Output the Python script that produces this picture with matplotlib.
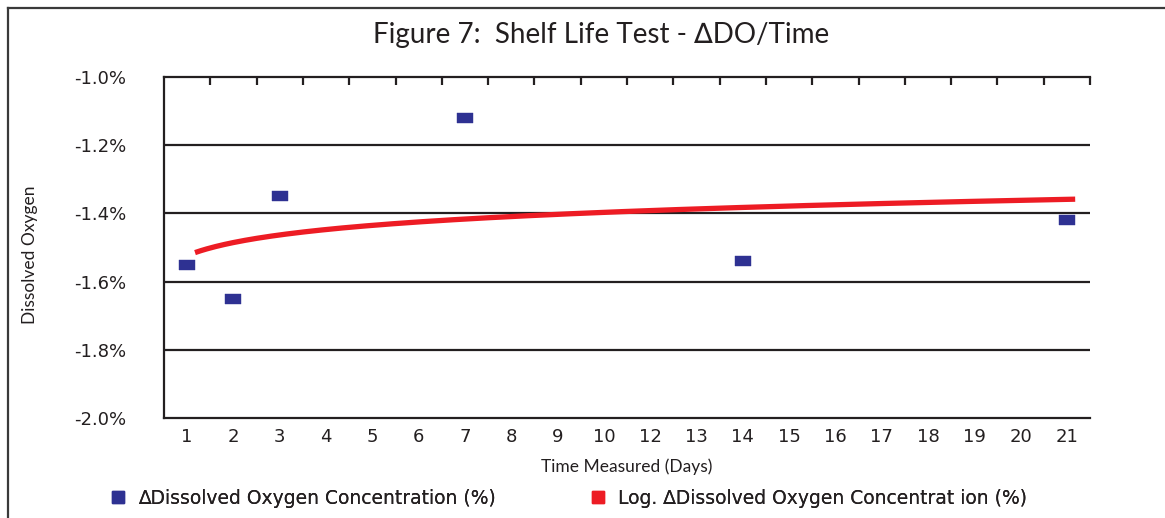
import numpy as np
import matplotlib
matplotlib.use("Agg")
import matplotlib.pyplot as plt
from matplotlib.lines import Line2D

# categories on the x axis (day 11 is not in the chart)
days = ["1", "2", "3", "4", "5", "6", "7", "8", "9", "10",
        "12", "13", "14", "15", "16", "17", "18", "19", "20", "21"]
# measured change in dissolved oxygen (%)
meas_days = ["1", "2", "3", "7", "14", "21"]
meas_do = [-1.55, -1.65, -1.35, -1.12, -1.54, -1.42]

y_ticks = [-2.0, -1.8, -1.6, -1.4, -1.2, -1.0]

navy = "#2E3192"
red = "#ED1C24"
dark = "#231F20"
sans = ["Lato", "DejaVu Sans"]
wide = ["DejaVu Sans"]

W, H = 1165, 518
fig = plt.figure(figsize=(W / 100, H / 100), dpi=100)
ax = fig.add_axes([164 / W, 1 - 418 / H, (1090 - 164) / W, (418 - 77) / H])

pos = {d: i + 1 for i, d in enumerate(days)}
xm = np.array([pos[d] for d in meas_days], dtype=float)
ym = np.array(meas_do)

# logarithmic trendline fitted to the points (x = category position)
b, a = np.polyfit(np.log(xm), ym, 1)
xt = np.linspace(1.17, 20.18, 300)
ax.plot(xt, a + b * np.log(xt), color=red, lw=3.8, solid_capstyle="butt", zorder=3)

rect = [(-0.75, -0.5), (0.75, -0.5), (0.75, 0.5), (-0.75, 0.5), (-0.75, -0.5)]
ax.plot(xm, ym, ls="none", marker=rect, ms=11.5, color=navy, mec=navy, mew=0.3, zorder=4)

ax.set_xlim(0.5, len(days) + 0.5)
ax.set_ylim(-2.0, -1.0)

# grid lines
for v in y_ticks[1:-1]:
    ax.axhline(v, color=dark, lw=1.6, zorder=1)

ax.spines["right"].set_visible(False)
for s in ["left", "top", "bottom"]:
    ax.spines[s].set_linewidth(1.6)
    ax.spines[s].set_color(dark)

ax.set_yticks(y_ticks)
ax.set_yticklabels(["%.1f%%" % v for v in y_ticks], family=wide, fontsize=13, color=dark)
ax.tick_params(axis="y", direction="in", length=4, width=1.4, pad=27, colors=dark)
ax.set_xticks(range(1, len(days) + 1))
ax.set_xticklabels(days, family=wide, fontsize=13, color=dark)
ax.tick_params(axis="x", length=0, pad=7)

# ticks on the top edge at the category boundaries
top = ax.secondary_xaxis("top")
top.set_xticks(np.arange(1.5, len(days) + 0.6, 1.0))
top.set_xticklabels([])
top.tick_params(direction="in", length=6, width=1.6, colors=dark)
top.spines["top"].set_visible(False)

ax.set_xlabel("Time Measured (Days)", family=sans, fontsize=12.5, color=dark, labelpad=9)
fig.text(30 / W, 1 - 255 / H, "Dissolved Oxygen", rotation=90, family=sans,
         fontsize=12.5, color=dark, ha="center", va="center")

fig.text(601 / W, 1 - 35 / H, "Figure 7:  Shelf Life Test - \u2206DO/Time", family=sans,
         fontsize=20, color=dark, ha="center", va="center")

# legend, two entries placed separately
entries = [
    (navy, "\u2206Dissolved Oxygen Concentration (%)", 110),
    (red, "Log. \u2206Dissolved Oxygen Concentrat ion (%)", 590),
]
for col, lab, x0 in entries:
    h = Line2D([], [], ls="none", marker="s", ms=9, color=col)
    leg = fig.legend([h], [lab], loc="center left", bbox_to_anchor=(x0 / W, 1 - 498 / H),
                     frameon=False, prop={"family": wide, "size": 13.5}, handletextpad=0.7,
                     labelcolor=dark, handlelength=0.8, borderpad=0, borderaxespad=0)
    fig.add_artist(leg)

# outer frame (clipped by the image edge on right and bottom)
fig.add_artist(Line2D([8 / W, 8 / W], [0, 1 - 8 / H], color="#3a3a3a", lw=1.6))
fig.add_artist(Line2D([8 / W, 1], [1 - 8 / H, 1 - 8 / H], color="#3a3a3a", lw=1.6))

fig.savefig("out.png", dpi=100)
